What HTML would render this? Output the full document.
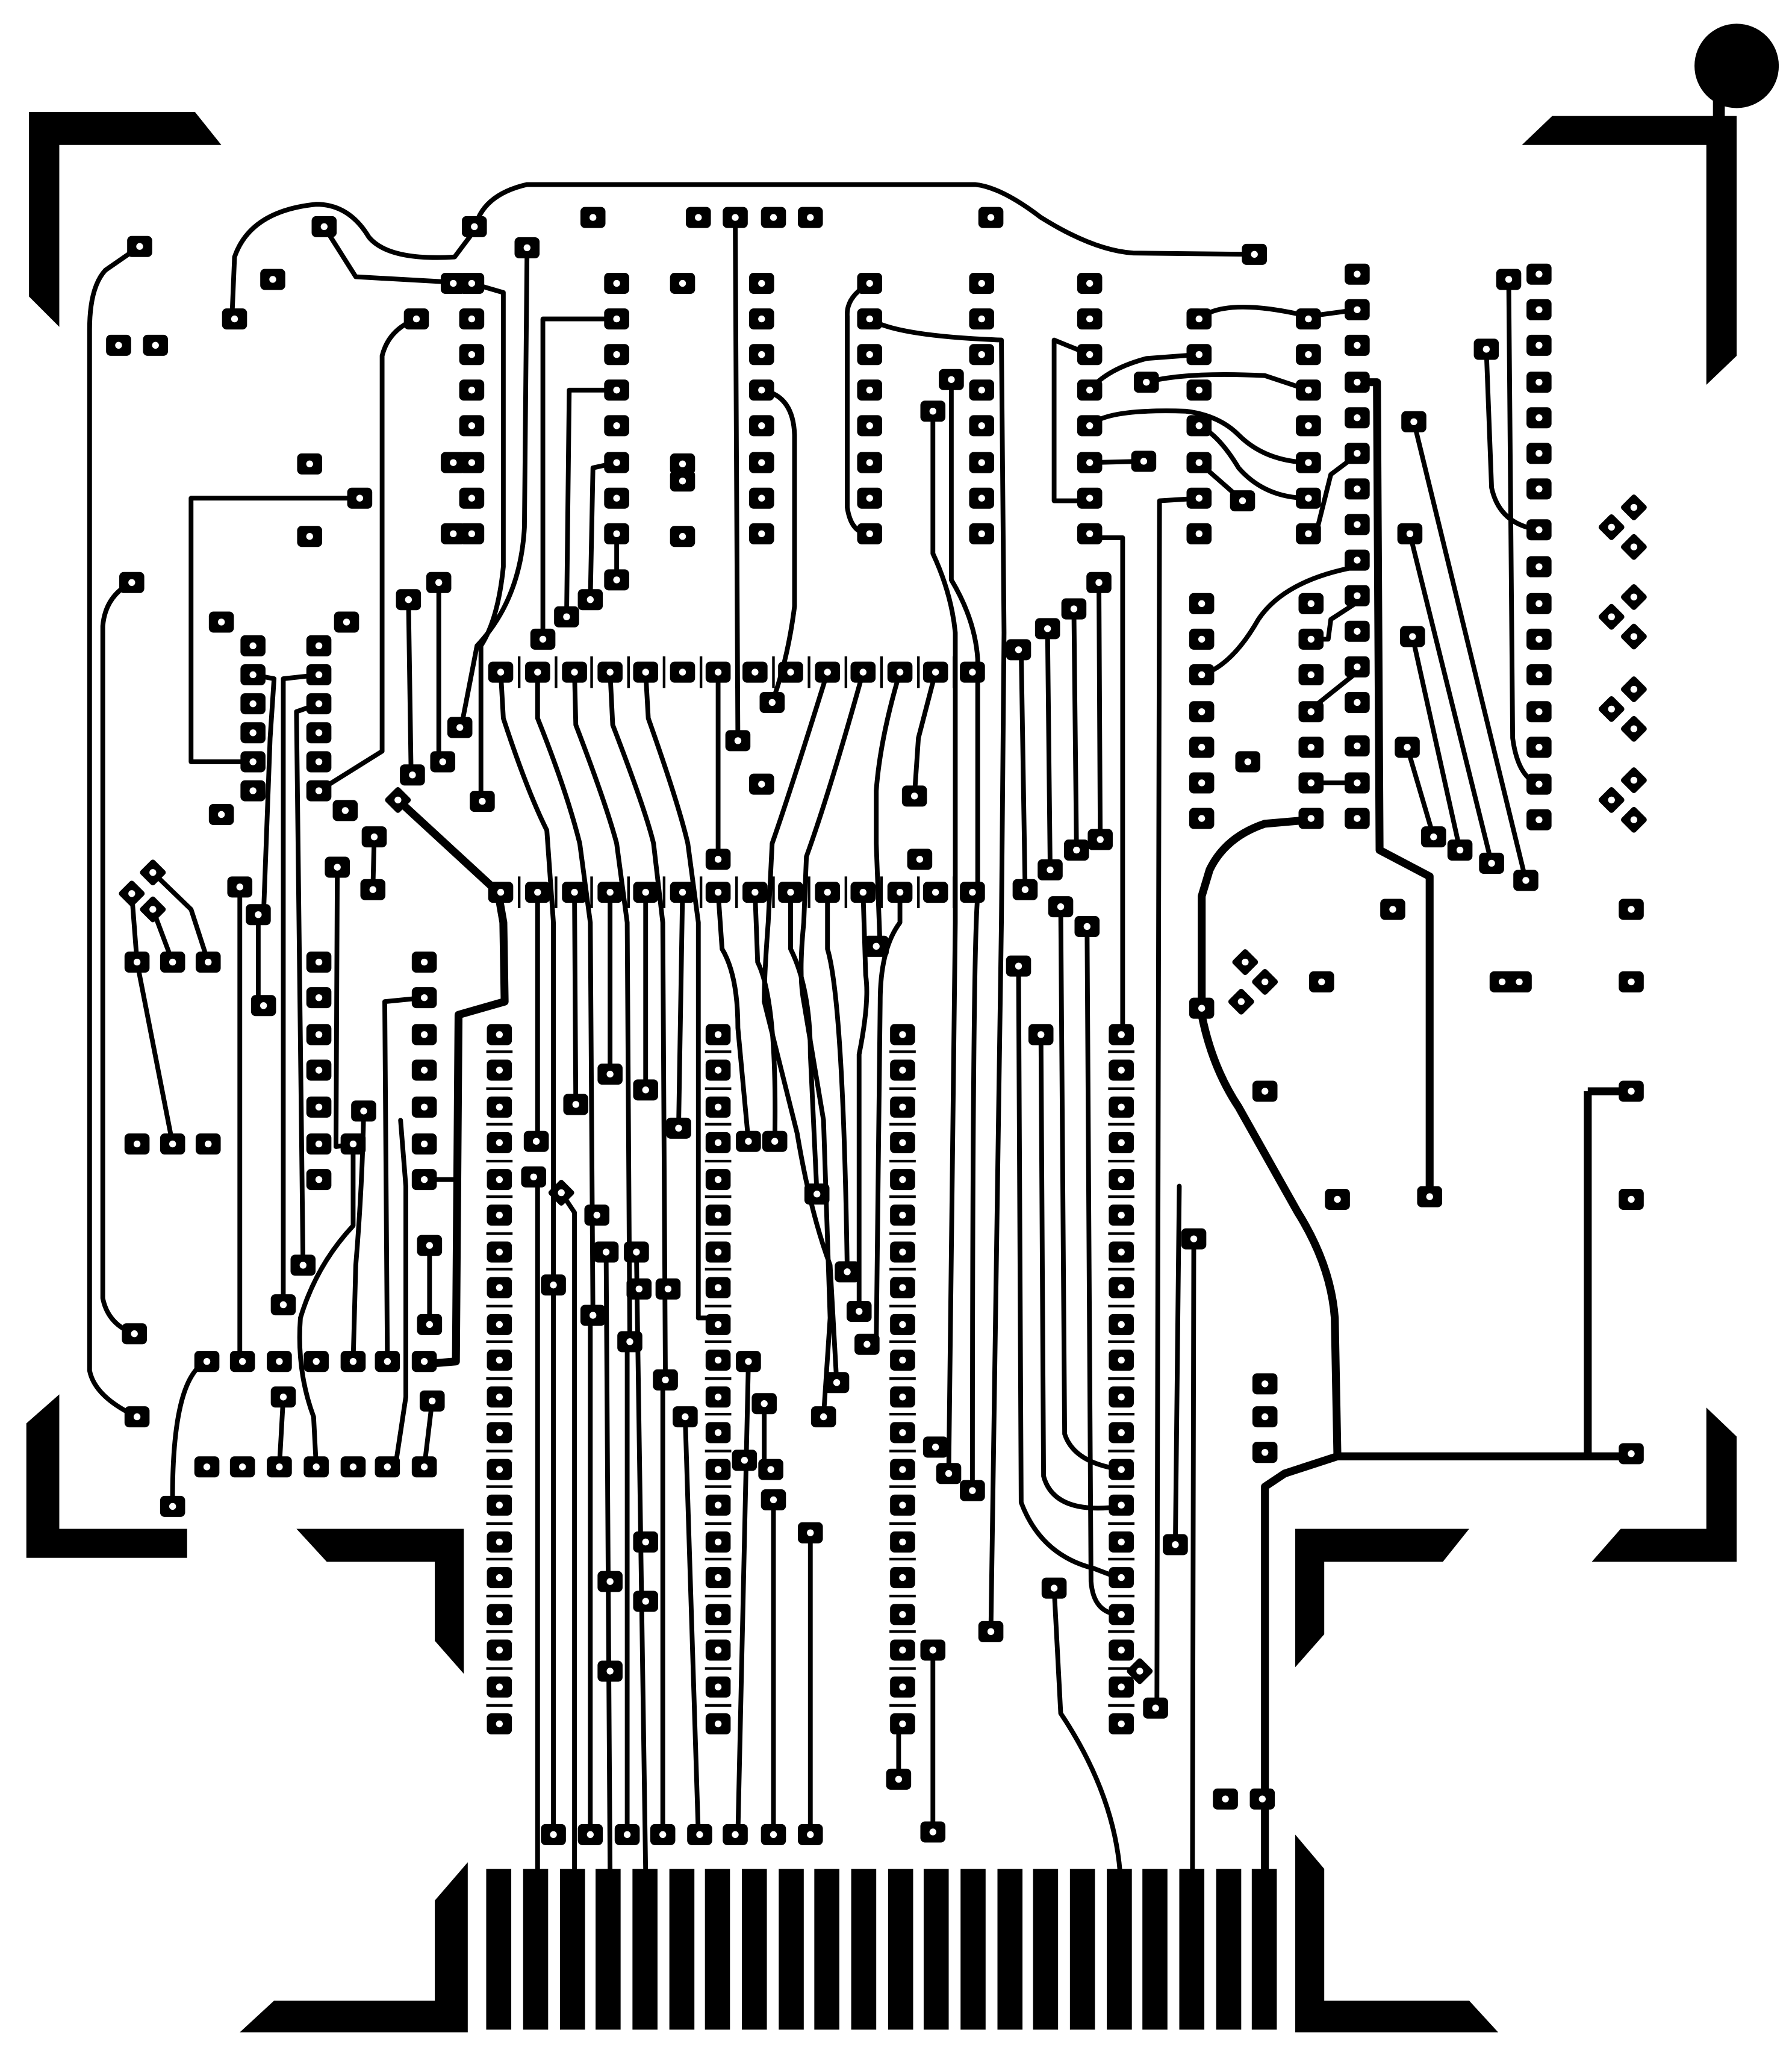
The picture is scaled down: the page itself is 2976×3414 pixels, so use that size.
<!DOCTYPE html>
<html><head><meta charset="utf-8"><style>html,body{margin:0;padding:0;background:#fff}svg{display:block}</style></head><body>
<svg width="2976" height="3414" viewBox="0 0 1360 1560" preserveAspectRatio="none" xmlns="http://www.w3.org/2000/svg">
<defs>
<g id="p"><rect x="-9.5" y="-8" width="19" height="16" rx="3.5" fill="#000"/><circle r="2.6" fill="#fff"/></g>
<g id="d"><rect x="-7.5" y="-7.5" width="15" height="15" rx="2" fill="#000" transform="rotate(45)"/><circle r="2.6" fill="#fff"/></g>
</defs>
<rect width="1360" height="1560" fill="#fff"/>
<g fill="#000">
<polygon points="22,85 148,85 168,110 45,110 45,248 22,225"/>
<circle cx="1318" cy="50" r="32"/>
<polygon points="1178,88 1318,88 1318,270 1295,292 1295,110 1155,110"/>
<rect x="1300" y="60" width="9" height="40"/>
<polygon points="45,1058 45,1160 142,1160 142,1182 20,1182 20,1080"/>
<polygon points="225,1160 352,1160 352,1270 330,1245 330,1185 248,1185"/>
<polygon points="983,1160 1115,1160 1095,1185 1005,1185 1005,1240 983,1265"/>
<polygon points="1295,1068 1318,1090 1318,1185 1208,1185 1230,1160 1295,1160"/>
<polygon points="330,1442 355,1413 355,1542 182,1542 208,1518 330,1518"/>
<polygon points="983,1392 1005,1418 1005,1518 1115,1518 1137,1542 983,1542"/>
</g>
<g fill="#000">
<rect x="369" y="1418" width="19" height="122"/><rect x="397" y="1418" width="19" height="122"/><rect x="425" y="1418" width="19" height="122"/><rect x="452" y="1418" width="19" height="122"/><rect x="480" y="1418" width="19" height="122"/><rect x="508" y="1418" width="19" height="122"/><rect x="535" y="1418" width="19" height="122"/><rect x="563" y="1418" width="19" height="122"/><rect x="591" y="1418" width="19" height="122"/><rect x="618" y="1418" width="19" height="122"/><rect x="646" y="1418" width="19" height="122"/><rect x="674" y="1418" width="19" height="122"/><rect x="701" y="1418" width="19" height="122"/><rect x="729" y="1418" width="19" height="122"/><rect x="757" y="1418" width="19" height="122"/><rect x="784" y="1418" width="19" height="122"/><rect x="812" y="1418" width="19" height="122"/><rect x="840" y="1418" width="19" height="122"/><rect x="867" y="1418" width="19" height="122"/><rect x="895" y="1418" width="19" height="122"/><rect x="923" y="1418" width="19" height="122"/><rect x="950" y="1418" width="19" height="122"/>
</g>
<g fill="none" stroke="#000" stroke-width="3.6" stroke-linejoin="round" stroke-linecap="round">
<path d="M360 175 Q365 148 400 140 L740 140 Q760 142 790 165 Q830 190 860 192 L952 193"/>
<path d="M176 242 L178 195 Q190 160 240 155 Q265 155 280 180 Q295 198 345 195 L360 175"/>
<path d="M246 172 L270 210 L358 215"/>
<path d="M106 187 L80 205 Q68 218 68 250 L68 1040 Q72 1060 104 1075"/>
<path d="M100 442 Q80 452 78 475 L78 985 Q82 1005 102 1012"/>
<path d="M316 242 Q295 250 290 270 L290 570 L242 600"/>
<path d="M400 188 L398 400 Q395 455 362 490 L350 552"/>
<path d="M358 215 L382 222 L382 430 Q378 470 365 490 L365 608"/>
<path d="M468 242 L412 242 L412 485"/><path d="M468 296 L432 296 L430 468"/><path d="M468 351 L450 355 L448 455"/><path d="M468 405 L468 440"/>
<path d="M558 165 L560 562"/>
<path d="M578 296 Q602 300 603 330 L603 460 Q598 500 586 533"/>
<path d="M660 215 Q642 225 643 240 L643 385 Q646 405 660 405"/>
<path d="M660 242 Q680 255 760 258 L762 480 L760 700 L752 1238"/>
<path d="M722 288 L722 440 Q740 470 742 500 L742 680 Q738 720 738 1131"/>
<path d="M708 312 L708 420 Q722 450 725 480 L725 700 L720 1118"/>
<path d="M910 242 Q930 225 993 240 L1030 235"/><path d="M910 269 L870 272 Q840 280 827 296"/><path d="M870 290 Q900 282 960 285 L993 296"/>
<path d="M827 323 Q840 310 900 312 Q925 315 940 330 Q960 350 993 351"/><path d="M910 323 Q925 330 940 355 Q960 378 993 378"/><path d="M910 351 L943 380"/><path d="M827 351 L868 350"/>
<path d="M827 269 L800 258 L800 380 L827 380"/>
<path d="M827 408 L852 408 L852 785"/>
<path d="M912 378 L880 380 L878 1296"/>
<path d="M1030 345 L1010 360 L1000 400"/><path d="M1030 430 Q975 440 955 470 Q935 505 912 512"/><path d="M1030 457 L1010 470 L1008 485 L995 485"/><path d="M1030 510 L995 538"/><path d="M1030 594 L995 594"/>
<path d="M1073 320 L1158 668"/><path d="M1070 405 L1132 655"/><path d="M1072 483 L1108 645"/><path d="M1068 567 L1088 635"/>
<path d="M1145 212 L1148 560 Q1152 590 1168 595"/><path d="M1128 265 L1132 370 Q1138 398 1168 402"/>
<path d="M380 510 L382 545 Q400 600 415 630 L420 700 L420 975"/>
<path d="M408 510 L408 545 Q430 600 440 640 L448 700 L450 998"/>
<path d="M436 510 L437 550 Q460 610 468 640 L476 700 L478 1018"/>
<path d="M463 510 L465 550 Q490 615 496 640 L503 700 L505 1047"/>
<path d="M490 510 L492 545 Q515 610 522 640 L530 700 L530 1000"/>
<path d="M545 510 L545 652"/>
<path d="M628 510 Q600 600 586 640 L583 700 Q580 740 580 760"/>
<path d="M655 510 Q630 600 612 650 L610 700 Q606 740 610 760"/>
<path d="M683 510 Q668 560 665 600 L665 640 L668 720"/>
<path d="M710 510 L697 560 L694 604"/>
<path d="M408 677 L408 866"/><path d="M436 677 L437 838"/><path d="M463 677 L463 815"/><path d="M490 677 L490 827"/><path d="M518 677 L515 856"/>
<path d="M545 677 L548 720 Q560 740 560 780 L568 866"/><path d="M573 677 L575 730 Q590 760 588 866"/>
<path d="M600 677 L600 720 Q615 750 615 800 L620 906"/><path d="M628 677 L628 720 Q640 760 643 965"/>
<path d="M655 677 L657 740 Q660 760 652 800 L652 995"/><path d="M683 677 L683 700 Q668 720 668 760 L665 1020"/>
<path d="M580 760 L605 860 Q615 920 630 960 L635 1049"/><path d="M610 760 L625 850 L630 1000 L625 1075"/>
<path d="M408 893 L408 1420"/><path d="M420 975 L420 1392"/><path d="M448 998 L448 1392"/><path d="M476 1018 L476 1392"/><path d="M503 1047 L503 1392"/>
<path d="M520 1075 L530 1392"/><path d="M568 1033 L560 1392"/><path d="M580 1065 L580 1110"/><path d="M587 1138 L587 1392"/><path d="M615 1163 L615 1392"/>
<path d="M426 905 L436 920 L436 1420"/><path d="M460 950 L463 1420"/><path d="M483 950 L490 1420"/><path d="M530 1000 L540 1000"/>
<path d="M708 1252 L708 1390"/><path d="M682 1310 L682 1350"/>
<path d="M800 1205 L805 1300 Q845 1360 850 1420"/><path d="M906 940 L905 1420"/><path d="M892 1172 L895 900"/>
<path d="M773 733 L775 1140 Q790 1180 830 1190 L851 1198"/><path d="M790 785 L792 1120 Q800 1150 851 1143"/><path d="M805 688 L808 1088 Q815 1110 851 1115"/><path d="M825 703 L828 1200 Q830 1225 851 1225"/>
<path d="M778 675 L775 493"/><path d="M797 660 L795 477"/><path d="M817 645 L815 462"/><path d="M835 637 L834 442"/>
<path d="M104 730 L131 868"/><path d="M100 678 L104 730"/><path d="M116 690 L131 730"/><path d="M116 662 L145 690 L158 730"/>
<path d="M182 673 L182 1033"/><path d="M192 512 L208 515 L205 560 L200 694"/><path d="M242 512 L215 515 L215 990"/><path d="M242 534 L225 540 L230 960"/>
<path d="M256 658 L255 870 L268 868"/><path d="M322 757 L292 760 L294 1033"/><path d="M322 895 L345 895"/>
<path d="M268 1033 L270 960 Q275 900 276 843"/><path d="M240 1113 L238 1075 Q225 1040 228 1000 Q240 960 268 930 L268 868"/>
<path d="M326 945 L326 1005"/><path d="M328 1063 L322 1113"/><path d="M157 1033 Q130 1045 131 1143"/><path d="M215 1060 L212 1113"/>
<path d="M300 1113 L308 1060 L308 900 L304 850"/><path d="M333 442 L333 578"/><path d="M310 455 L312 588"/><path d="M284 635 L283 675"/>
<path d="M273 378 L145 378 L145 578 L192 578"/>
<path d="M196 694 L196 763"/>
</g>
<g fill="none" stroke="#000" stroke-width="6" stroke-linejoin="round">
<path d="M302 607 L378 677 L382 700 L383 760 L348 770 L346 1033 L322 1035"/>
<path d="M1030 290 L1045 290 L1047 645 L1085 665 L1085 908"/>
<path d="M995 622 L960 625 Q930 635 918 660 L912 680 L912 770 Q920 810 940 840 L985 920 Q1010 960 1013 1000 L1015 1105 L1238 1105"/>
<path d="M1205 828 L1205 1105 M1238 828 L1205 828"/>
<path d="M1015 1105 L975 1118 L960 1128 L960 1425"/>
</g>
<g stroke="#000" stroke-width="2">
<path d="M394 498v24M422 498v24M449 498v24M477 498v24M504 498v24M532 498v24M559 498v24M587 498v24M614 498v24M642 498v24M669 498v24M697 498v24M724 498v24"/>
<path d="M394 665v24M422 665v24M449 665v24M477 665v24M504 665v24M532 665v24M559 665v24M587 665v24M614 665v24M642 665v24M669 665v24M697 665v24M724 665v24"/>
</g>
<g>
<use href="#p" x="106" y="187"/><use href="#p" x="90" y="262"/><use href="#p" x="118" y="262"/><use href="#p" x="178" y="242"/><use href="#p" x="207" y="212"/><use href="#p" x="246" y="172"/><use href="#p" x="316" y="242"/><use href="#p" x="235" y="352"/><use href="#p" x="235" y="407"/><use href="#p" x="273" y="378"/><use href="#p" x="100" y="442"/>
<use href="#p" x="360" y="172"/><use href="#p" x="400" y="188"/><use href="#p" x="450" y="165"/><use href="#p" x="530" y="165"/><use href="#p" x="558" y="165"/><use href="#p" x="587" y="165"/><use href="#p" x="615" y="165"/><use href="#p" x="752" y="165"/><use href="#p" x="952" y="193"/>
<use href="#p" x="358" y="215"/><use href="#p" x="358" y="242"/><use href="#p" x="358" y="269"/><use href="#p" x="358" y="296"/><use href="#p" x="358" y="323"/><use href="#p" x="358" y="351"/><use href="#p" x="358" y="378"/><use href="#p" x="358" y="405"/><use href="#p" x="344" y="215"/><use href="#p" x="344" y="351"/><use href="#p" x="344" y="405"/>
<use href="#p" x="468" y="215"/><use href="#p" x="468" y="242"/><use href="#p" x="468" y="269"/><use href="#p" x="468" y="296"/><use href="#p" x="468" y="323"/><use href="#p" x="468" y="351"/><use href="#p" x="468" y="378"/><use href="#p" x="468" y="405"/><use href="#p" x="468" y="440"/><use href="#p" x="448" y="455"/><use href="#p" x="430" y="468"/><use href="#p" x="412" y="485"/>
<use href="#p" x="518" y="215"/><use href="#p" x="518" y="352"/><use href="#p" x="518" y="365"/><use href="#p" x="518" y="407"/>
<use href="#p" x="578" y="215"/><use href="#p" x="578" y="242"/><use href="#p" x="578" y="269"/><use href="#p" x="578" y="296"/><use href="#p" x="578" y="323"/><use href="#p" x="578" y="351"/><use href="#p" x="578" y="378"/><use href="#p" x="578" y="405"/>
<use href="#p" x="660" y="215"/><use href="#p" x="660" y="242"/><use href="#p" x="660" y="269"/><use href="#p" x="660" y="296"/><use href="#p" x="660" y="323"/><use href="#p" x="660" y="351"/><use href="#p" x="660" y="378"/><use href="#p" x="660" y="405"/>
<use href="#p" x="745" y="215"/><use href="#p" x="745" y="242"/><use href="#p" x="745" y="269"/><use href="#p" x="745" y="296"/><use href="#p" x="745" y="323"/><use href="#p" x="745" y="351"/><use href="#p" x="745" y="378"/><use href="#p" x="745" y="405"/><use href="#p" x="722" y="288"/><use href="#p" x="708" y="312"/>
<use href="#p" x="827" y="215"/><use href="#p" x="827" y="242"/><use href="#p" x="827" y="269"/><use href="#p" x="827" y="296"/><use href="#p" x="827" y="323"/><use href="#p" x="827" y="351"/><use href="#p" x="827" y="378"/><use href="#p" x="827" y="405"/><use href="#p" x="870" y="290"/><use href="#p" x="868" y="350"/>
<use href="#p" x="910" y="242"/><use href="#p" x="910" y="269"/><use href="#p" x="910" y="296"/><use href="#p" x="910" y="323"/><use href="#p" x="910" y="351"/><use href="#p" x="910" y="378"/><use href="#p" x="910" y="405"/><use href="#p" x="943" y="380"/>
<use href="#p" x="993" y="242"/><use href="#p" x="993" y="269"/><use href="#p" x="993" y="296"/><use href="#p" x="993" y="323"/><use href="#p" x="993" y="351"/><use href="#p" x="993" y="378"/><use href="#p" x="993" y="405"/>
<use href="#p" x="1030" y="208"/><use href="#p" x="1030" y="235"/><use href="#p" x="1030" y="262"/><use href="#p" x="1030" y="290"/><use href="#p" x="1030" y="317"/><use href="#p" x="1030" y="344"/><use href="#p" x="1030" y="371"/><use href="#p" x="1030" y="398"/><use href="#p" x="1030" y="425"/><use href="#p" x="1030" y="452"/><use href="#p" x="1030" y="479"/><use href="#p" x="1030" y="506"/><use href="#p" x="1030" y="533"/><use href="#p" x="1030" y="566"/><use href="#p" x="1030" y="594"/><use href="#p" x="1030" y="621"/>
<use href="#p" x="1168" y="208"/><use href="#p" x="1168" y="235"/><use href="#p" x="1168" y="262"/><use href="#p" x="1168" y="290"/><use href="#p" x="1168" y="317"/><use href="#p" x="1168" y="344"/><use href="#p" x="1168" y="371"/><use href="#p" x="1168" y="402"/><use href="#p" x="1168" y="430"/><use href="#p" x="1168" y="458"/><use href="#p" x="1168" y="485"/><use href="#p" x="1168" y="512"/><use href="#p" x="1168" y="540"/><use href="#p" x="1168" y="567"/><use href="#p" x="1168" y="595"/><use href="#p" x="1168" y="622"/><use href="#p" x="1145" y="212"/><use href="#p" x="1128" y="265"/>
<use href="#p" x="912" y="458"/><use href="#p" x="912" y="485"/><use href="#p" x="912" y="512"/><use href="#p" x="912" y="540"/><use href="#p" x="912" y="567"/><use href="#p" x="912" y="594"/><use href="#p" x="912" y="621"/>
<use href="#p" x="995" y="458"/><use href="#p" x="995" y="485"/><use href="#p" x="995" y="512"/><use href="#p" x="995" y="540"/><use href="#p" x="995" y="567"/><use href="#p" x="995" y="594"/><use href="#p" x="995" y="621"/><use href="#p" x="947" y="578"/>
<use href="#p" x="1073" y="320"/><use href="#p" x="1070" y="405"/><use href="#p" x="1072" y="483"/><use href="#p" x="1068" y="567"/><use href="#p" x="1088" y="635"/><use href="#p" x="1108" y="645"/><use href="#p" x="1132" y="655"/><use href="#p" x="1158" y="668"/>
<use href="#d" x="1223" y="400"/><use href="#d" x="1240" y="385"/><use href="#d" x="1240" y="415"/>
<use href="#d" x="1223" y="468"/><use href="#d" x="1240" y="453"/><use href="#d" x="1240" y="483"/>
<use href="#d" x="1223" y="538"/><use href="#d" x="1240" y="523"/><use href="#d" x="1240" y="553"/>
<use href="#d" x="1223" y="607"/><use href="#d" x="1240" y="592"/><use href="#d" x="1240" y="622"/>
<use href="#d" x="945" y="730"/><use href="#d" x="942" y="760"/><use href="#d" x="960" y="745"/>
<use href="#p" x="168" y="472"/><use href="#p" x="263" y="472"/><use href="#p" x="168" y="618"/><use href="#p" x="262" y="615"/><use href="#d" x="302" y="607"/>
<use href="#p" x="192" y="490"/><use href="#p" x="192" y="512"/><use href="#p" x="192" y="534"/><use href="#p" x="192" y="556"/><use href="#p" x="192" y="578"/><use href="#p" x="192" y="600"/>
<use href="#p" x="242" y="490"/><use href="#p" x="242" y="512"/><use href="#p" x="242" y="534"/><use href="#p" x="242" y="556"/><use href="#p" x="242" y="578"/><use href="#p" x="242" y="600"/>
<use href="#p" x="310" y="455"/><use href="#p" x="333" y="442"/><use href="#p" x="349" y="552"/><use href="#p" x="313" y="588"/><use href="#p" x="336" y="578"/><use href="#p" x="366" y="608"/>
<use href="#p" x="284" y="635"/><use href="#p" x="256" y="658"/><use href="#p" x="283" y="675"/><use href="#p" x="182" y="673"/><use href="#p" x="196" y="694"/><use href="#p" x="200" y="763"/>
<use href="#d" x="100" y="678"/><use href="#d" x="116" y="662"/><use href="#d" x="116" y="690"/>
<use href="#p" x="104" y="730"/><use href="#p" x="131" y="730"/><use href="#p" x="158" y="730"/><use href="#p" x="104" y="868"/><use href="#p" x="131" y="868"/><use href="#p" x="158" y="868"/>
<use href="#p" x="242" y="730"/><use href="#p" x="242" y="757"/><use href="#p" x="242" y="785"/><use href="#p" x="242" y="812"/><use href="#p" x="242" y="840"/><use href="#p" x="242" y="868"/><use href="#p" x="242" y="895"/>
<use href="#p" x="322" y="730"/><use href="#p" x="322" y="757"/><use href="#p" x="322" y="785"/><use href="#p" x="322" y="812"/><use href="#p" x="322" y="840"/><use href="#p" x="322" y="868"/><use href="#p" x="322" y="895"/>
<use href="#p" x="268" y="868"/><use href="#p" x="276" y="843"/><use href="#p" x="230" y="960"/><use href="#p" x="215" y="990"/><use href="#p" x="326" y="945"/><use href="#p" x="326" y="1005"/><use href="#p" x="102" y="1012"/><use href="#p" x="104" y="1075"/><use href="#p" x="131" y="1143"/>
<use href="#p" x="157" y="1033"/><use href="#p" x="184" y="1033"/><use href="#p" x="212" y="1033"/><use href="#p" x="240" y="1033"/><use href="#p" x="268" y="1033"/><use href="#p" x="294" y="1033"/><use href="#p" x="322" y="1033"/>
<use href="#p" x="157" y="1113"/><use href="#p" x="184" y="1113"/><use href="#p" x="212" y="1113"/><use href="#p" x="240" y="1113"/><use href="#p" x="268" y="1113"/><use href="#p" x="294" y="1113"/><use href="#p" x="322" y="1113"/><use href="#p" x="215" y="1060"/><use href="#p" x="328" y="1063"/>
<use href="#p" x="380" y="510"/><use href="#p" x="408" y="510"/><use href="#p" x="436" y="510"/><use href="#p" x="463" y="510"/><use href="#p" x="490" y="510"/><use href="#p" x="518" y="510"/><use href="#p" x="545" y="510"/><use href="#p" x="573" y="510"/><use href="#p" x="600" y="510"/><use href="#p" x="628" y="510"/><use href="#p" x="655" y="510"/><use href="#p" x="683" y="510"/><use href="#p" x="710" y="510"/><use href="#p" x="738" y="510"/>
<use href="#p" x="380" y="677"/><use href="#p" x="408" y="677"/><use href="#p" x="436" y="677"/><use href="#p" x="463" y="677"/><use href="#p" x="490" y="677"/><use href="#p" x="518" y="677"/><use href="#p" x="545" y="677"/><use href="#p" x="573" y="677"/><use href="#p" x="600" y="677"/><use href="#p" x="628" y="677"/><use href="#p" x="655" y="677"/><use href="#p" x="683" y="677"/><use href="#p" x="710" y="677"/><use href="#p" x="738" y="677"/>
<use href="#p" x="560" y="562"/><use href="#p" x="586" y="533"/><use href="#p" x="578" y="595"/><use href="#p" x="545" y="652"/><use href="#p" x="694" y="604"/><use href="#p" x="698" y="652"/><use href="#p" x="665" y="718"/>
</g>
<g id="col">
<use href="#p" x="379" y="785"/><use href="#p" x="379" y="812"/><use href="#p" x="379" y="840"/><use href="#p" x="379" y="867"/><use href="#p" x="379" y="895"/><use href="#p" x="379" y="922"/><use href="#p" x="379" y="950"/><use href="#p" x="379" y="977"/><use href="#p" x="379" y="1005"/><use href="#p" x="379" y="1032"/><use href="#p" x="379" y="1060"/><use href="#p" x="379" y="1087"/><use href="#p" x="379" y="1115"/><use href="#p" x="379" y="1142"/><use href="#p" x="379" y="1170"/><use href="#p" x="379" y="1197"/><use href="#p" x="379" y="1225"/><use href="#p" x="379" y="1252"/><use href="#p" x="379" y="1280"/><use href="#p" x="379" y="1308"/>
<path d="M369 798h20M369 826h20M369 853h20M369 881h20M369 908h20M369 936h20M369 963h20M369 991h20M369 1018h20M369 1046h20M369 1073h20M369 1101h20M369 1128h20M369 1156h20M369 1183h20M369 1211h20M369 1238h20M369 1266h20M369 1294h20" stroke="#000" stroke-width="2"/>
</g>
<use href="#col" x="166"/><use href="#col" x="306"/><use href="#col" x="472"/>
<g>
<use href="#p" x="407" y="866"/><use href="#p" x="437" y="838"/><use href="#p" x="463" y="815"/><use href="#p" x="490" y="827"/><use href="#p" x="515" y="856"/><use href="#p" x="568" y="866"/><use href="#p" x="588" y="866"/><use href="#p" x="405" y="893"/><use href="#d" x="426" y="905"/><use href="#p" x="453" y="922"/><use href="#p" x="460" y="950"/><use href="#p" x="483" y="950"/><use href="#p" x="485" y="978"/><use href="#p" x="507" y="978"/><use href="#p" x="420" y="975"/><use href="#p" x="450" y="998"/><use href="#p" x="478" y="1018"/><use href="#p" x="505" y="1047"/><use href="#p" x="520" y="1075"/><use href="#p" x="568" y="1033"/><use href="#p" x="580" y="1065"/><use href="#p" x="565" y="1108"/><use href="#p" x="585" y="1115"/><use href="#p" x="587" y="1138"/><use href="#p" x="615" y="1163"/>
<use href="#p" x="620" y="906"/><use href="#p" x="643" y="965"/><use href="#p" x="652" y="995"/><use href="#p" x="658" y="1020"/><use href="#p" x="635" y="1049"/><use href="#p" x="625" y="1075"/><use href="#p" x="710" y="1098"/><use href="#p" x="720" y="1118"/><use href="#p" x="738" y="1131"/><use href="#p" x="752" y="1238"/><use href="#p" x="708" y="1252"/><use href="#p" x="682" y="1350"/><use href="#p" x="490" y="1170"/><use href="#p" x="463" y="1200"/><use href="#p" x="490" y="1215"/><use href="#p" x="463" y="1268"/>
<use href="#p" x="773" y="493"/><use href="#p" x="795" y="477"/><use href="#p" x="815" y="462"/><use href="#p" x="834" y="442"/><use href="#p" x="778" y="675"/><use href="#p" x="797" y="660"/><use href="#p" x="817" y="645"/><use href="#p" x="835" y="637"/><use href="#p" x="805" y="688"/><use href="#p" x="825" y="703"/><use href="#p" x="773" y="733"/><use href="#p" x="790" y="785"/><use href="#p" x="800" y="1205"/><use href="#d" x="865" y="1268"/><use href="#p" x="877" y="1296"/><use href="#p" x="892" y="1172"/><use href="#p" x="906" y="940"/><use href="#p" x="912" y="765"/>
<use href="#p" x="420" y="1392"/><use href="#p" x="448" y="1392"/><use href="#p" x="476" y="1392"/><use href="#p" x="503" y="1392"/><use href="#p" x="531" y="1392"/><use href="#p" x="558" y="1392"/><use href="#p" x="587" y="1392"/><use href="#p" x="615" y="1392"/><use href="#p" x="708" y="1390"/><use href="#p" x="930" y="1365"/><use href="#p" x="958" y="1365"/>
<use href="#p" x="1057" y="690"/><use href="#p" x="1003" y="745"/><use href="#p" x="1140" y="745"/><use href="#p" x="1153" y="745"/><use href="#p" x="1238" y="690"/><use href="#p" x="1238" y="745"/><use href="#p" x="1238" y="828"/><use href="#p" x="1238" y="910"/><use href="#p" x="1238" y="1103"/><use href="#p" x="960" y="828"/><use href="#p" x="1015" y="910"/><use href="#p" x="1085" y="908"/><use href="#p" x="960" y="1050"/><use href="#p" x="960" y="1075"/><use href="#p" x="960" y="1102"/>
</g>
</svg>
</body></html>
